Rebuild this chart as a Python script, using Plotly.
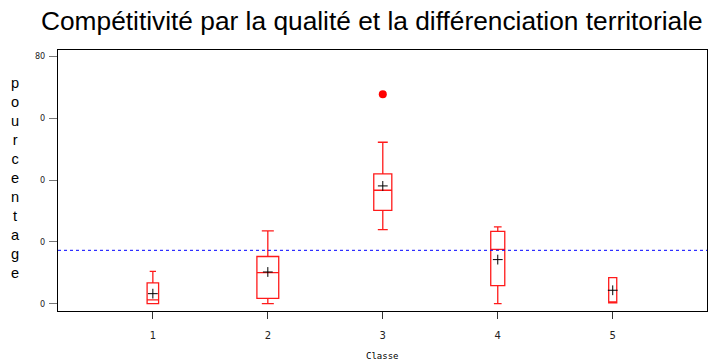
import plotly.graph_objects as go

# ---- data ----
classes = [1, 2, 3, 4, 5]
q1 = [0.1, 1.8, 30.2, 5.9, 0.3]
medians = [1.3, 10.1, 36.7, 17.6, 0.3]
q3 = [6.8, 15.3, 42.0, 23.4, 8.5]
lower_whisker = [0.1, 0.1, 24.0, 0.1, 0.3]
upper_whisker = [10.5, 23.6, 52.2, 24.9, 8.5]
means = [3.3, 10.3, 38.1, 14.3, 4.4]
box_widths = [0.10, 0.19, 0.157, 0.122, 0.07]
outlier_x = [3]
outlier_y = [67.7]
reference_level = 17.3
y_tick_vals = [0, 20, 40, 60, 80]
y_tick_text = ["0", "0", "0", "0", "80"]
x_tick_text = ["1", "2", "3", "4", "5"]

W, H = 712, 361
ML, MR, MT, MB = 58, 5, 50, 50

fig = go.Figure()
for i, c in enumerate(classes):
    fig.add_trace(go.Box(
        x=[c], q1=[q1[i]], median=[medians[i]], q3=[q3[i]],
        lowerfence=[lower_whisker[i]], upperfence=[upper_whisker[i]],
        width=box_widths[i], whiskerwidth=0.55,
        line=dict(color="#ff1a1a", width=1.3), fillcolor="white",
        boxpoints=False, showlegend=False, hoverinfo="skip",
    ))

fig.add_trace(go.Scatter(
    x=classes, y=means, mode="markers",
    marker=dict(symbol="cross-thin", size=7, line=dict(color="black", width=1)),
    showlegend=False, hoverinfo="skip"))
fig.add_trace(go.Scatter(
    x=outlier_x, y=outlier_y, mode="markers",
    marker=dict(symbol="circle", size=8, color="red"),
    showlegend=False, hoverinfo="skip"))

fig.add_shape(type="line", xref="paper", x0=0, x1=1, yref="y",
              y0=reference_level, y1=reference_level,
              line=dict(color="blue", width=1, dash="3px,3px"))

plot_w = W - ML - MR
plot_h = H - MT - MB

fig.add_annotation(
    text="<br>".join(list("pourcentage")), xref="paper", yref="paper",
    x=(15 - ML) / plot_w, y=(H - MB - 177.5) / plot_h,
    xanchor="center", yanchor="middle", showarrow=False,
    font=dict(family="Liberation Sans, Arial", size=14.6, color="black"))

fig.add_annotation(
    text="Classe", xref="paper", yref="paper",
    x=(382 - ML) / plot_w, y=-(356 - (H - MB)) / plot_h,
    xanchor="center", yanchor="middle", showarrow=False,
    font=dict(family="DejaVu Sans Mono", size=9, color="black"))

fig.update_layout(
    width=W, height=H,
    margin=dict(l=ML, r=MR, t=MT, b=MB),
    paper_bgcolor="white", plot_bgcolor="white",
    boxmode="overlay",
    title=dict(text="Compétitivité par la qualité et la différenciation territoriale",
               x=41 / W, xanchor="left", xref="container",
               y=1 - 21 / H, yanchor="middle", yref="container",
               font=dict(family="Liberation Sans, Arial", size=26.3, color="black")),
    xaxis=dict(range=[0.175, 5.82], tickmode="array", tickvals=classes,
               ticktext=x_tick_text, ticks="outside", ticklen=7, tickcolor="#333",
               ticklabelstandoff=8,
               showgrid=False, zeroline=False, showline=True, linecolor="black",
               linewidth=1, mirror=True,
               tickfont=dict(family="DejaVu Sans", size=10, color="#222")),
    yaxis=dict(range=[-2.3, 82], tickmode="array", tickvals=y_tick_vals,
               ticktext=y_tick_text, ticks="outside", ticklen=8, tickcolor="#777",
               ticklabelstandoff=2,
               showgrid=False, zeroline=False, showline=True, linecolor="black",
               linewidth=1, mirror=True,
               tickfont=dict(family="DejaVu Sans Condensed", size=9, color="#222")),
)

fig.write_html("out.html")
